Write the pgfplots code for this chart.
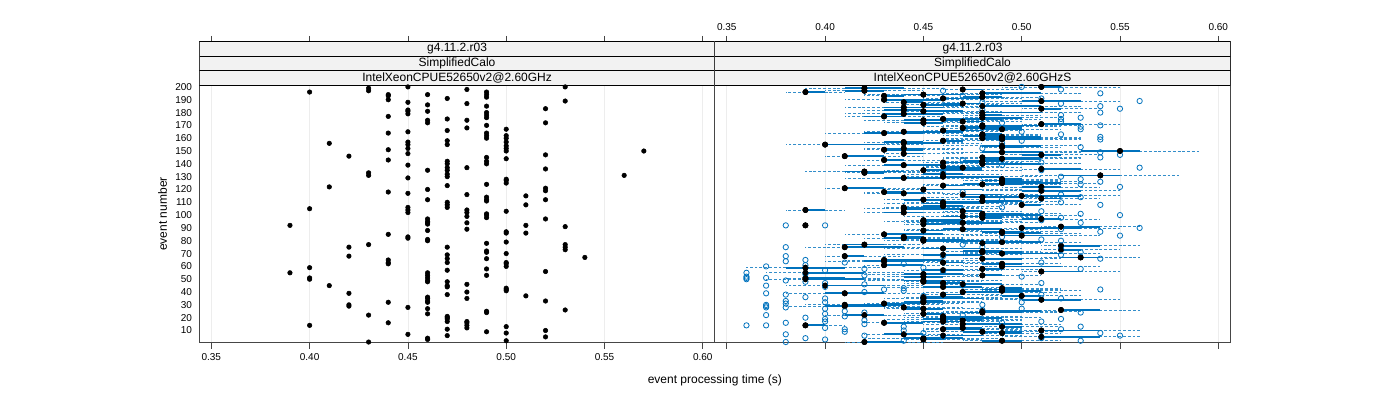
\documentclass[border=0pt]{standalone}
\usepackage{fontspec}
\setmainfont{Liberation Sans}
\usepackage{pgfplots}
\usepackage{pgfplotstable}
\pgfplotsset{compat=1.18}

\definecolor{bwblue}{RGB}{0,114,189}
\definecolor{stripgray}{RGB}{242,242,242}
\definecolor{framegray}{RGB}{70,70,70}

% reference run: one time per event
\pgfplotstableread{
t ev
0.39 92
0.39 55
0.40 196
0.40 105
0.40 59
0.40 51
0.40 50
0.40 14
0.41 156
0.41 122
0.41 45
0.42 146
0.42 75
0.42 68
0.42 39
0.42 30
0.42 29
0.43 199
0.43 197
0.43 133
0.43 131
0.43 77
0.43 22
0.43 1
0.44 194
0.44 193
0.44 190
0.44 177
0.44 164
0.44 151
0.44 143
0.44 118
0.44 85
0.44 65
0.44 63
0.44 62
0.44 32
0.44 16
0.45 200
0.45 188
0.45 182
0.45 181
0.45 179
0.45 165
0.45 157
0.45 155
0.45 152
0.45 148
0.45 139
0.45 129
0.45 117
0.45 106
0.45 104
0.45 102
0.45 83
0.45 82
0.45 28
0.45 7
0.46 194
0.46 186
0.46 181
0.46 174
0.46 172
0.46 135
0.46 120
0.46 112
0.46 97
0.46 95
0.46 94
0.46 93
0.46 88
0.46 81
0.46 80
0.46 55
0.46 53
0.46 51
0.46 49
0.46 48
0.46 36
0.46 35
0.46 33
0.46 32
0.46 27
0.46 23
0.46 4
0.46 3
0.47 191
0.47 175
0.47 166
0.47 158
0.47 155
0.47 142
0.47 140
0.47 137
0.47 135
0.47 132
0.47 130
0.47 123
0.47 110
0.47 108
0.47 106
0.47 75
0.47 69
0.47 66
0.47 63
0.47 57
0.47 48
0.47 45
0.47 44
0.47 38
0.47 21
0.47 20
0.47 19
0.47 17
0.47 11
0.47 6
0.48 198
0.48 187
0.48 174
0.48 168
0.48 137
0.48 116
0.48 104
0.48 102
0.48 99
0.48 94
0.48 89
0.48 46
0.48 40
0.48 35
0.48 17
0.48 16
0.48 14
0.48 12
0.49 196
0.49 194
0.49 192
0.49 185
0.49 180
0.49 178
0.49 176
0.49 170
0.49 164
0.49 162
0.49 160
0.49 145
0.49 142
0.49 140
0.49 124
0.49 114
0.49 112
0.49 111
0.49 101
0.49 100
0.49 98
0.49 78
0.49 72
0.49 71
0.49 66
0.49 58
0.49 53
0.49 25
0.49 24
0.49 9
0.50 167
0.50 162
0.50 160
0.50 157
0.50 154
0.50 152
0.50 150
0.50 144
0.50 128
0.50 127
0.50 125
0.50 103
0.50 87
0.50 86
0.50 79
0.50 70
0.50 63
0.50 62
0.50 60
0.50 43
0.50 42
0.50 41
0.50 13
0.50 8
0.50 2
0.51 115
0.51 108
0.51 92
0.51 86
0.51 37
0.52 183
0.52 172
0.52 147
0.52 136
0.52 121
0.52 119
0.52 112
0.52 97
0.52 56
0.52 33
0.52 10
0.52 5
0.53 200
0.53 189
0.53 91
0.53 77
0.53 75
0.53 73
0.53 26
0.54 67
0.56 131
0.57 150
}\lefttab

% S runs: median, box (minus/plus), whiskers (minus/plus), outliers
\pgfplotstableread{
ev med bm bp wm wp oa ob
1 0.42 0 0.02 0.01 0.04 0.38 nan
2 0.49 0.01 0.01 0.02 0.03 0.44 0.53
3 0.45 0 0.01 0.01 0.03 0.40 nan
4 0.45 0.01 0.02 0.03 0.04 0.39 0.51
5 0.51 0 0.03 0.02 0.05 0.46 nan
6 0.46 0 0.02 0.01 0.04 0.42 0.55
7 0.44 0.01 0.01 0.02 0.03 0.38 nan
8 0.49 0 0.01 0.01 0.03 0.45 0.54
9 0.48 0.01 0.02 0.03 0.04 0.41 nan
10 0.51 0 0.03 0.02 0.05 0.44 nan
11 0.46 0 0.02 0.01 0.04 0.41 0.52
12 0.47 0.01 0.01 0.02 0.03 0.40 nan
13 0.49 0 0.01 0.01 0.03 0.44 0.53
14 0.39 0 0.01 0 0.02 0.37 0.36
15 0.47 0 0.03 0.02 0.05 0.42 nan
16 0.43 0 0.02 0.01 0.04 0.38 0.49
17 0.46 0.01 0.01 0.02 0.03 0.40 0.51
18 0.47 0 0.01 0.01 0.03 0.42 nan
19 0.46 0.01 0.02 0.03 0.04 0.40 0.52
20 0.46 0 0.03 0.02 0.05 0.39 nan
21 0.46 0 0.02 0.01 0.04 0.41 nan
22 0.42 0.01 0.01 0.02 0.03 0.37 0.47
23 0.45 0 0.01 0.01 0.03 0.40 nan
24 0.48 0.01 0.02 0.03 0.04 0.42 0.53
25 0.48 0 0.03 0.02 0.05 0.41 nan
26 0.52 0 0.02 0.01 0.04 0.48 nan
27 0.45 0.01 0.01 0.02 0.03 0.40 0.50
28 0.44 0 0.01 0.01 0.03 0.37 0.38
29 0.41 0.01 0.02 0.03 0.04 0.37 nan
30 0.41 0 0.03 0.02 0.05 0.37 0.48
31 0.43 0 0.02 0.01 0.04 0.38 nan
32 0.45 0.01 0.01 0.02 0.03 0.40 0.50
33 0.45 0 0.01 0.01 0.03 0.38 nan
34 0.51 0.01 0.02 0.03 0.04 0.45 nan
35 0.45 0 0.03 0.02 0.05 0.40 0.52
36 0.45 0 0.02 0.01 0.04 0.39 nan
37 0.50 0.01 0.01 0.02 0.03 0.45 nan
38 0.46 0 0.01 0.01 0.03 0.38 0.51
39 0.41 0.01 0.02 0.03 0.04 0.37 nan
40 0.47 0 0.03 0.02 0.05 0.42 nan
41 0.49 0 0.02 0.01 0.04 0.44 nan
42 0.49 0.01 0.01 0.02 0.03 0.43 0.54
43 0.49 0 0.01 0.01 0.03 0.44 nan
44 0.46 0.01 0.02 0.03 0.04 0.40 nan
45 0.40 0 0.03 0.02 0.05 0.37 0.47
46 0.47 0 0.02 0.01 0.04 0.42 nan
47 0.46 0.01 0.01 0.02 0.03 0.40 0.51
48 0.45 0 0.01 0.01 0.03 0.39 nan
49 0.45 0.01 0.02 0.03 0.04 0.38 nan
50 0.39 0 0.03 0.02 0.05 0.36 nan
51 0.39 0 0.02 0.01 0.04 0.36 0.37
52 0.45 0.01 0.01 0.02 0.03 0.36 0.50
53 0.48 0 0.01 0.01 0.03 0.42 nan
54 0.45 0.01 0.02 0.03 0.04 0.39 nan
55 0.39 0 0.03 0.02 0.05 0.36 nan
56 0.51 0 0.02 0.01 0.04 0.46 nan
57 0.46 0.01 0.01 0.02 0.03 0.40 nan
58 0.48 0 0.01 0.01 0.03 0.42 0.53
59 0.39 0.01 0.02 0.03 0.04 nan 0.45
60 0.49 0 0.03 0.02 0.05 0.37 nan
61 0.43 0 0.02 0.01 0.04 0.39 nan
62 0.49 0.01 0.01 0.02 0.03 0.44 nan
63 0.46 0 0.01 0.01 0.03 0.41 0.51
64 0.43 0.01 0.02 0.03 0.04 0.38 nan
65 0.43 0 0.03 0.02 0.05 0.39 nan
66 0.48 0 0.02 0.01 0.04 nan 0.54
67 0.53 0.01 0.01 0.02 0.03 nan nan
68 0.41 0 0.01 0.01 0.03 0.38 0.46
69 0.46 0.01 0.02 0.03 0.04 nan 0.52
70 0.49 0 0.03 0.02 0.05 nan nan
71 0.48 0 0.02 0.01 0.04 nan 0.53
72 0.48 0.01 0.01 0.02 0.03 nan nan
73 0.52 0 0.01 0.01 0.03 nan nan
74 0.46 0.01 0.02 0.03 0.04 nan 0.52
75 0.41 0 0.03 0.02 0.05 0.38 0.48
76 0.52 0 0.02 0.01 0.04 nan nan
77 0.42 0.01 0.01 0.02 0.03 nan 0.47
78 0.48 0 0.01 0.01 0.03 nan nan
79 0.49 0.01 0.02 0.03 0.04 nan nan
80 0.45 0 0.03 0.02 0.05 nan 0.52
81 0.45 0 0.02 0.01 0.04 nan 0.51
82 0.44 0.01 0.01 0.02 0.03 nan nan
83 0.44 0 0.01 0.01 0.03 nan 0.49
84 0.50 0.01 0.02 0.03 0.04 nan 0.55
85 0.43 0 0.03 0.02 0.05 nan nan
86 0.49 0 0.02 0.01 0.04 nan nan
87 0.49 0.01 0.01 0.02 0.03 nan 0.54
88 0.45 0 0.01 0.01 0.03 nan nan
89 0.47 0.01 0.02 0.03 0.04 nan 0.52
90 0.50 0 0.03 0.02 0.05 nan 0.56
91 0.52 0 0.02 0.01 0.04 nan nan
92 0.39 0 0 0 0 0.38 0.40
93 0.45 0 0.01 0.01 0.03 nan nan
94 0.47 0.01 0.02 0.03 0.04 nan 0.53
95 0.45 0 0.03 0.02 0.05 nan nan
96 0.45 0 0.02 0.01 0.04 nan 0.51
97 0.51 0.01 0.01 0.02 0.03 nan nan
98 0.48 0 0.01 0.01 0.03 nan 0.52
99 0.47 0.01 0.02 0.03 0.04 nan nan
100 0.48 0 0.03 0.02 0.05 nan 0.55
101 0.48 0 0.02 0.01 0.04 nan 0.53
102 0.44 0.01 0.01 0.02 0.03 nan nan
103 0.47 0 0.01 0.01 0.03 nan 0.51
104 0.39 0 0.01 0.01 0.02 nan nan
105 0.44 0 0.03 0.02 0.05 nan nan
106 0.44 0 0.02 0.01 0.04 nan 0.49
107 0.46 0.01 0.01 0.02 0.03 nan nan
108 0.50 0 0.01 0.01 0.03 nan 0.54
109 0.46 0.01 0.02 0.03 0.04 nan nan
110 0.46 0 0.03 0.02 0.05 nan 0.52
111 0.48 0 0.02 0.01 0.04 nan nan
112 0.45 0.01 0.01 0.02 0.03 nan 0.49
113 0.51 0 0.01 0.01 0.03 nan nan
114 0.48 0.01 0.02 0.03 0.04 nan 0.53
115 0.50 0 0.03 0.02 0.05 nan nan
116 0.47 0 0.02 0.01 0.04 nan 0.52
117 0.44 0.01 0.01 0.02 0.03 nan nan
118 0.43 0 0.01 0.01 0.03 nan 0.47
119 0.51 0.01 0.02 0.03 0.04 nan nan
120 0.45 0 0.03 0.02 0.05 nan 0.51
121 0.41 0 0.02 0.01 0.04 nan nan
122 0.51 0.01 0.01 0.02 0.03 nan 0.55
123 0.46 0 0.01 0.01 0.03 nan nan
124 0.48 0.01 0.02 0.03 0.04 nan 0.53
125 0.49 0 0.03 0.02 0.05 nan nan
126 0.49 0 0.02 0.01 0.04 nan 0.54
127 0.49 0.01 0.01 0.02 0.03 nan nan
128 0.49 0 0.01 0.01 0.03 nan 0.53
129 0.44 0.01 0.02 0.03 0.04 nan nan
130 0.46 0 0.03 0.02 0.05 nan 0.52
131 0.54 0.02 0.01 0.04 0.04 nan nan
132 0.46 0.01 0.01 0.02 0.03 nan nan
133 0.42 0 0.01 0.01 0.03 nan 0.46
134 0.42 0.01 0.02 0.03 0.04 nan nan
135 0.45 0 0.03 0.02 0.05 nan 0.51
136 0.51 0 0.02 0.01 0.04 nan nan
137 0.47 0.01 0.01 0.02 0.03 nan 0.56
138 0.46 0 0.01 0.01 0.03 nan nan
139 0.44 0.01 0.02 0.03 0.04 nan 0.49
140 0.48 0 0.03 0.02 0.05 nan nan
141 0.46 0 0.02 0.01 0.04 nan 0.51
142 0.48 0.01 0.01 0.02 0.03 nan nan
143 0.43 0 0.01 0.01 0.03 nan 0.47
144 0.49 0.01 0.02 0.03 0.04 nan nan
145 0.48 0 0.03 0.02 0.05 nan 0.54
146 0.41 0 0.02 0.01 0.04 nan nan
147 0.51 0.01 0.01 0.02 0.03 nan 0.55
148 0.44 0 0.01 0.01 0.03 nan nan
149 0.49 0.01 0.02 0.03 0.04 nan 0.54
150 0.55 0.02 0.01 0.04 0.04 nan nan
151 0.43 0 0.02 0.01 0.04 nan nan
152 0.44 0.01 0.01 0.02 0.03 nan 0.48
153 0.49 0 0.01 0.01 0.03 nan 0.53
154 0.49 0.01 0.02 0.03 0.04 nan nan
155 0.40 0 0.03 0.02 0.05 nan nan
156 0.44 0 0.02 0.01 0.04 nan 0.49
157 0.44 0.01 0.01 0.02 0.03 nan nan
158 0.46 0 0.01 0.01 0.03 nan 0.50
159 0.49 0.01 0.02 0.03 0.04 nan 0.54
160 0.48 0 0.03 0.02 0.05 nan nan
161 0.49 0 0.02 0.01 0.04 nan 0.54
162 0.48 0.01 0.01 0.02 0.03 nan nan
163 0.48 0 0.01 0.01 0.03 nan 0.52
164 0.43 0.01 0.02 0.03 0.04 nan nan
165 0.44 0 0.03 0.02 0.05 nan 0.50
166 0.46 0 0.02 0.01 0.04 nan nan
167 0.49 0.01 0.01 0.02 0.03 nan 0.53
168 0.47 0 0.01 0.01 0.03 nan nan
169 0.48 0.01 0.02 0.03 0.04 nan 0.53
170 0.48 0 0.03 0.02 0.05 nan 0.54
171 0.51 0 0.02 0.01 0.04 nan nan
172 0.45 0.01 0.01 0.02 0.03 nan 0.49
173 0.47 0 0.01 0.01 0.03 nan 0.52
174 0.45 0.01 0.02 0.03 0.04 nan nan
175 0.46 0 0.03 0.02 0.05 nan 0.52
176 0.48 0 0.02 0.01 0.04 nan 0.53
177 0.43 0.01 0.01 0.02 0.03 nan nan
178 0.48 0 0.01 0.01 0.03 nan 0.52
179 0.44 0.01 0.02 0.03 0.04 nan nan
180 0.48 0 0.03 0.02 0.05 nan 0.54
181 0.45 0 0.02 0.01 0.04 nan nan
182 0.44 0.01 0.01 0.02 0.03 nan 0.48
183 0.51 0 0.01 0.01 0.03 nan 0.55
184 0.44 0.01 0.02 0.03 0.04 nan nan
185 0.48 0 0.03 0.02 0.05 nan 0.54
186 0.45 0 0.02 0.01 0.04 nan nan
187 0.47 0.01 0.01 0.02 0.03 nan 0.52
188 0.44 0 0.01 0.01 0.03 nan 0.48
189 0.51 0.01 0.02 0.03 0.04 nan 0.56
190 0.43 0 0.03 0.02 0.05 nan nan
191 0.46 0 0.02 0.01 0.04 nan 0.51
192 0.48 0.01 0.01 0.02 0.03 nan nan
193 0.43 0 0.01 0.01 0.03 nan 0.47
194 0.45 0.01 0.02 0.03 0.04 nan nan
195 0.48 0 0.03 0.02 0.05 nan 0.54
196 0.39 0 0.01 0.01 0.02 nan nan
197 0.42 0.01 0.01 0.02 0.03 nan 0.46
198 0.47 0 0.01 0.01 0.03 nan 0.52
199 0.42 0.01 0.02 0.03 0.04 nan nan
200 0.51 0 0.01 0.02 0.04 0.50 nan
}\righttab

\pgfplotsset{
  panel/.style={
    scale only axis, width=386.6pt, height=225.65pt,
    xmin=0.3439, xmax=0.6061, ymin=0.5, ymax=235.2,
    xtick={0.35,0.4,0.45,0.5,0.55,0.6},
    xticklabels={0.35,0.40,0.45,0.50,0.55,0.60},
    xtick pos=both, tick align=outside, major tick length=4.5pt,
    x tick style={framegray, line width=0.6pt},
    axis line style={framegray, line width=0.8pt},
    xmajorgrids, grid style={gray!14, line width=0.6pt},
    tick label style={font=\fontsize{7.5}{8}\selectfont},
    /pgf/number format/assume math mode=true,
  },
}
\newcommand{\strips}[1]{%
  \draw[black, line width=0.6pt, fill=stripgray] (axis cs:0.3439,223.967) rectangle (axis cs:0.6061,235.2);
  \draw[black, line width=0.6pt, fill=stripgray] (axis cs:0.3439,212.733) rectangle (axis cs:0.6061,223.967);
  \draw[black, line width=0.6pt, fill=stripgray] (axis cs:0.3439,201.5) rectangle (axis cs:0.6061,212.733);
  \node[font=\fontsize{9}{10}\selectfont] at (axis cs:0.475,229.58) {g4.11.2.r03};
  \node[font=\fontsize{9}{10}\selectfont] at (axis cs:0.475,218.35) {SimplifiedCalo};
  \node[font=\fontsize{9}{10}\selectfont] at (axis cs:0.475,207.12) {#1};
}

\begin{document}
\begin{tikzpicture}
\useasboundingbox (0,0) rectangle (1050pt,300pt);

\begin{axis}[panel, at={(149.5pt,43pt)}, anchor=south west,
    xticklabel pos=lower,
    ytick={10,20,...,200}, ytick pos=left,
    y tick style={draw=none},
    yticklabel style={xshift=2.5pt},
  ]
  \addplot[only marks, mark=*, mark size=1.7pt, black] table[x=t, y=ev] {\lefttab};
  \strips{IntelXeonCPUE52650v2@2.60GHz}
\end{axis}

\begin{axis}[panel, at={(536.1pt,43pt)}, anchor=south west,
    xticklabel pos=upper,
    ytick=\empty,
  ]
  % whiskers
  \addplot[only marks, mark=none,
    error bars/.cd, x dir=both, x explicit, error mark=none,
    error bar style={bwblue!80, dash pattern=on 2.2pt off 1.4pt, line width=0.6pt}]
    table[x=med, y=ev, x error minus=wm, x error plus=wp] {\righttab};
  % boxes
  \addplot[only marks, mark=none,
    error bars/.cd, x dir=both, x explicit, error mark=none,
    error bar style={bwblue, line width=1.3pt}]
    table[x=med, y=ev, x error minus=bm, x error plus=bp] {\righttab};
  % outliers
  \addplot[only marks, mark=o, mark size=2pt, bwblue, mark options={line width=0.6pt}]
    table[x=oa, y=ev] {\righttab};
  \addplot[only marks, mark=o, mark size=2pt, bwblue, mark options={line width=0.6pt}]
    table[x=ob, y=ev] {\righttab};
  % medians
  \addplot[only marks, mark=*, mark size=1.7pt, black] table[x=med, y=ev] {\righttab};
  \strips{IntelXeonCPUE52650v2@2.60GHzS}
\end{axis}

\node[font=\fontsize{9}{10}\selectfont] at (536.1pt,15pt) {event processing time (s)};
\node[font=\fontsize{9}{10}\selectfont, rotate=90] at (122pt,139.5pt) {event number};
\end{tikzpicture}
\end{document}
